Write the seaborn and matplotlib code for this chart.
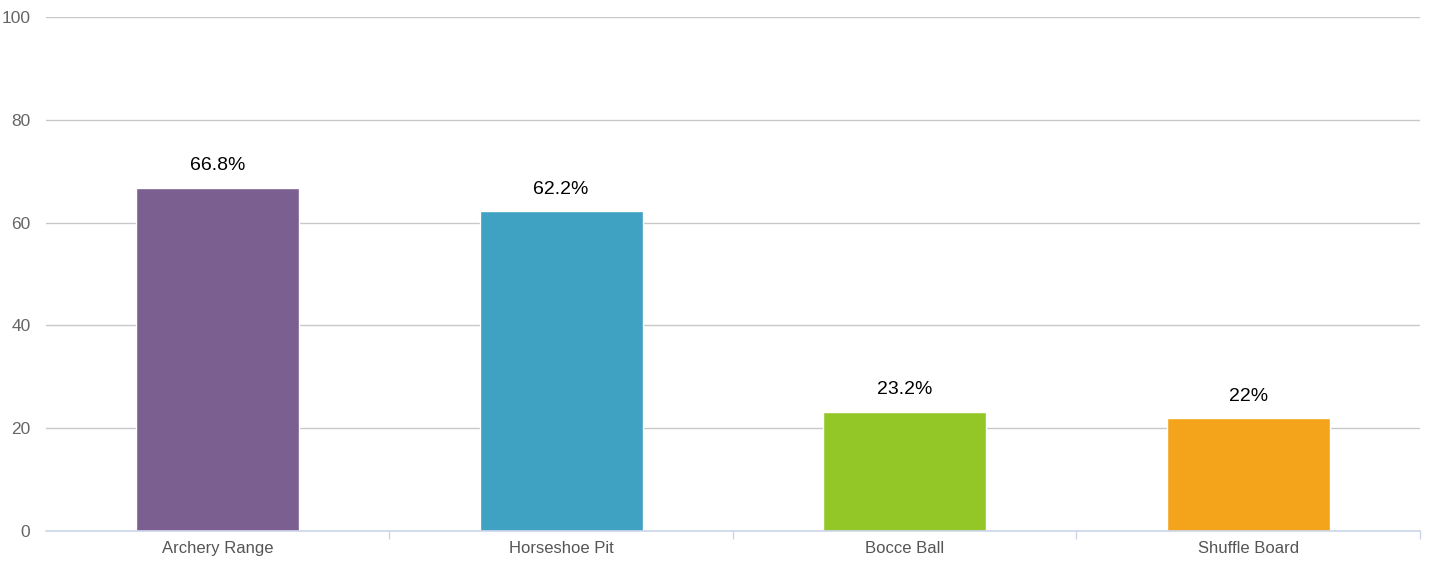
import numpy as np
import pandas as pd
import seaborn as sns
import matplotlib.pyplot as plt

# data
activities = ["Archery Range", "Horseshoe Pit", "Bocce Ball", "Shuffle Board"]
percentages = [66.8, 62.2, 23.2, 22]
bar_labels = ["66.8%", "62.2%", "23.2%", "22%"]
palette = ["#7b5f91", "#40a2c2", "#93c727", "#f4a41b"]
y_ticks = [0, 20, 40, 60, 80, 100]

df = pd.DataFrame({"activity": activities, "pct": percentages})

sns.set_style("white")
plt.rcParams["font.family"] = ["Liberation Sans", "DejaVu Sans"]

fig = plt.figure(figsize=(14.3, 5.62), dpi=100)
ax = fig.add_axes([0.032, 0.0552, 0.961, 0.9146])

sns.barplot(data=df, x="activity", y="pct", hue="activity", palette=palette,
            saturation=1, width=0.475, edgecolor="white", linewidth=1,
            legend=False, ax=ax, zorder=3)

for i, (v, lab) in enumerate(zip(percentages, bar_labels)):
    ax.text(i, v + 2.6, lab, ha="center", va="bottom", fontsize=14, color="black")

ax.set_ylim(0, 100)
ax.set_xlim(-0.5, 3.5)
ax.set_yticks(y_ticks)
ax.set_yticklabels([str(t) for t in y_ticks], fontsize=12.5, color="#666666")
ax.grid(axis="y", color="#c8c8c8", linewidth=1, zorder=0)
ax.set_axisbelow(True)

ax.set_xlabel("")
ax.set_ylabel("")
ax.tick_params(axis="x", which="major", length=0, labelsize=12, labelcolor="#555555", pad=7)
ax.tick_params(axis="y", length=0, pad=11)
ax.set_xticks([0.5, 1.5, 2.5, 3.5], minor=True)
ax.tick_params(axis="x", which="minor", bottom=True, length=6, color="#ccd6eb", width=1)

for s in ["top", "right", "left"]:
    ax.spines[s].set_visible(False)
ax.spines["bottom"].set_color("#ccd6eb")
ax.spines["bottom"].set_linewidth(1.2)
ax.spines["bottom"].set_zorder(4)

fig.savefig("out.png", dpi=100)
